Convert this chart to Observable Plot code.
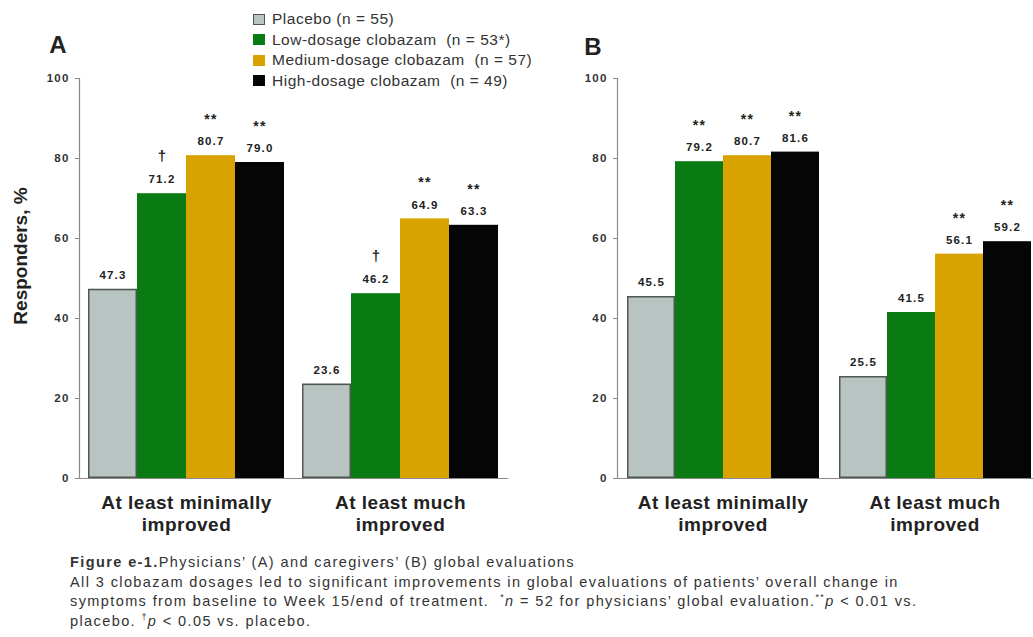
<!DOCTYPE html>
<html><head><meta charset="utf-8">
<script src="https://cdn.jsdelivr.net/npm/d3@7"></script>
<script src="https://cdn.jsdelivr.net/npm/@observablehq/plot@0.6"></script>
<style>
html,body{margin:0;padding:0;background:#fff;width:1033px;height:637px;overflow:hidden;font-family:"Liberation Sans",Arial,sans-serif;color:#222;}
#root{position:relative;width:1033px;height:637px;overflow:hidden;}
.abs{position:absolute;}
.panel{width:500px;height:540px;}
.panel svg{overflow:visible;max-width:none !important;width:500px;height:540px;}
.letter{font-weight:bold;font-size:24px;transform:translate(-50%,-50%);}
.ytitle{font-weight:bold;font-size:19px;white-space:nowrap;transform:translate(-50%,-50%) rotate(-90deg);}
.legend{left:253px;top:9px;font-size:15.5px;letter-spacing:0.5px;color:#333;}
.legend .row{display:flex;align-items:center;height:20.5px;white-space:pre;}
.legend .sw{width:12px;height:11px;margin-right:7px;box-sizing:border-box;}
.caption{left:70px;top:553px;font-size:14.5px;letter-spacing:1.4px;line-height:19.7px;white-space:nowrap;color:#333;}
.caption sup{font-size:9px;line-height:0;}
svg g.vlab{letter-spacing:1.2px;}
svg g.glab{letter-spacing:0.5px;}
svg g.ylab{letter-spacing:1.2px;}
</style></head><body><div id="root"></div>
<script>
const groups = ["At least minimally improved", "At least much improved"];
const groupLabels = ["At least minimally\nimproved", "At least much\nimproved"];
const series = ["Placebo", "Low-dosage clobazam", "Medium-dosage clobazam", "High-dosage clobazam"];
const legendLabels = ["Placebo (n = 55)", "Low-dosage clobazam  (n = 53*)", "Medium-dosage clobazam  (n = 57)", "High-dosage clobazam  (n = 49)"];
const colors = ["#b8c4c1", "#0a7a12", "#d8a300", "#050505"];
const yTicks = [0, 20, 40, 60, 80, 100];

// Panel A: physicians' global evaluation
const physMinimal = [47.3, 71.2, 80.7, 79.0];
const physMuch = [23.6, 46.2, 64.9, 63.3];
const physMinimalSig = ["", "\u2020", "**", "**"];
const physMuchSig = ["", "\u2020", "**", "**"];
// Panel B: caregivers' global evaluation
const careMinimal = [45.5, 79.2, 80.7, 81.6];
const careMuch = [25.5, 41.5, 56.1, 59.2];
const careMinimalSig = ["", "**", "**", "**"];
const careMuchSig = ["", "", "**", "**"];

const fmt = d3.format(".1f");
const FONT = '"Liberation Sans", Arial, sans-serif';

function buildRows(minV, muchV, minS, muchS) {
  const rows = [];
  groups.forEach((g, gi) => series.forEach((s, si) => rows.push({
    group: g, series: s,
    value: (gi ? muchV : minV)[si],
    sig: (gi ? muchS : minS)[si]
  })));
  return rows;
}

function panel(rows, mRight, inset) {
  const common = {fx: "group", x: "series", y: "value"};
  return Plot.plot({
    width: 500, height: 540,
    marginLeft: 79, marginRight: mRight, marginTop: 78, marginBottom: 62,
    style: {fontFamily: FONT, color: "#222", background: "transparent", overflow: "visible"},
    fx: {domain: groups, paddingInner: 0.04225, paddingOuter: 0, axis: null, label: null},
    x: {domain: series, padding: 0, insetLeft: inset, axis: null},
    y: {domain: [0, 100], label: null, axis: null},
    color: {domain: series, range: colors},
    marks: [
      Plot.barY(rows, {...common, fill: "series"}),
      Plot.barY(rows.filter(d => d.series === series[0]), {...common, fill: "none", stroke: "#505652", strokeWidth: 1.5, inset: 0.75}),
      Plot.ruleY([0], {stroke: "#8a8a8a", strokeWidth: 1.2, insetRight: -10}),
      Plot.frame({anchor: "left", facetAnchor: "left", stroke: "#8a8a8a", strokeWidth: 1.2}),
      Plot.axisY({ticks: yTicks, tickSize: 4, tickPadding: 6, label: null, stroke: "#8a8a8a",
        fontSize: 11.5, fontWeight: "bold", fill: "#333", className: "ylab"}),
      Plot.text(rows, {...common, text: d => fmt(d.value), dy: -14, fontSize: 11.5, fontWeight: "bold", fill: "#222", className: "vlab"}),
      Plot.text(rows.filter(d => d.sig === "**"), {...common, text: "sig", dy: -36, fontSize: 14, fontWeight: "bold", fill: "#222", className: "vlab"}),
      Plot.text(rows.filter(d => d.sig === "\u2020"), {...common, text: "sig", dy: -38, fontSize: 15, fontWeight: "bold", fill: "#222"}),
      Plot.text(groups, {fx: d => d, frameAnchor: "bottom", text: d => groupLabels[groups.indexOf(d)],
        lineAnchor: "top", dy: 14.5, dx: inset / 2, fontSize: 19, fontWeight: "bold", lineHeight: 1.16, fill: "#222", className: "glab"})
    ]
  });
}

const root = document.getElementById("root");
function place(el, left, top) {
  const w = document.createElement("div");
  w.className = "abs panel";
  w.style.left = left + "px"; w.style.top = top + "px";
  w.appendChild(el);
  root.appendChild(w);
}
place(panel(buildRows(physMinimal, physMuch, physMinimalSig, physMuchSig), 2, 9), 0, 0);
place(panel(buildRows(careMinimal, careMuch, careMinimalSig, careMuchSig), 5, 8), 538, 0);

function addText(cls, left, top, html) {
  const d = document.createElement("div");
  d.className = "abs " + cls;
  d.style.left = left + "px"; d.style.top = top + "px";
  d.innerHTML = html;
  root.appendChild(d);
  return d;
}
addText("letter", 58, 45, "A");
addText("letter", 593, 47, "B");
addText("ytitle", 21, 256, "Responders, %");

const legend = addText("legend", 253, 9, "");
series.forEach((s, i) => {
  const row = document.createElement("div");
  row.className = "row";
  const sw = document.createElement("span");
  sw.className = "sw";
  sw.style.background = colors[i];
  if (i === 0) sw.style.border = "1.5px solid #505652";
  const t = document.createElement("span");
  t.textContent = legendLabels[i];
  row.appendChild(sw); row.appendChild(t);
  legend.appendChild(row);
});

addText("caption", 70, 553,
  "<b>Figure e-1.</b>Physicians\u2019 (A) and caregivers\u2019 (B) global evaluations<br>" +
  "All 3 clobazam dosages led to significant improvements in global evaluations of patients\u2019 overall change in<br>" +
  "symptoms from baseline to Week 15/end of treatment.&nbsp; <sup>*</sup><i>n</i> = 52 for physicians\u2019 global evaluation.<sup>**</sup><i>p</i> &lt; 0.01 vs.<br>" +
  "placebo. <sup>\u2020</sup><i>p</i> &lt; 0.05 vs. placebo.");
</script></body></html>
